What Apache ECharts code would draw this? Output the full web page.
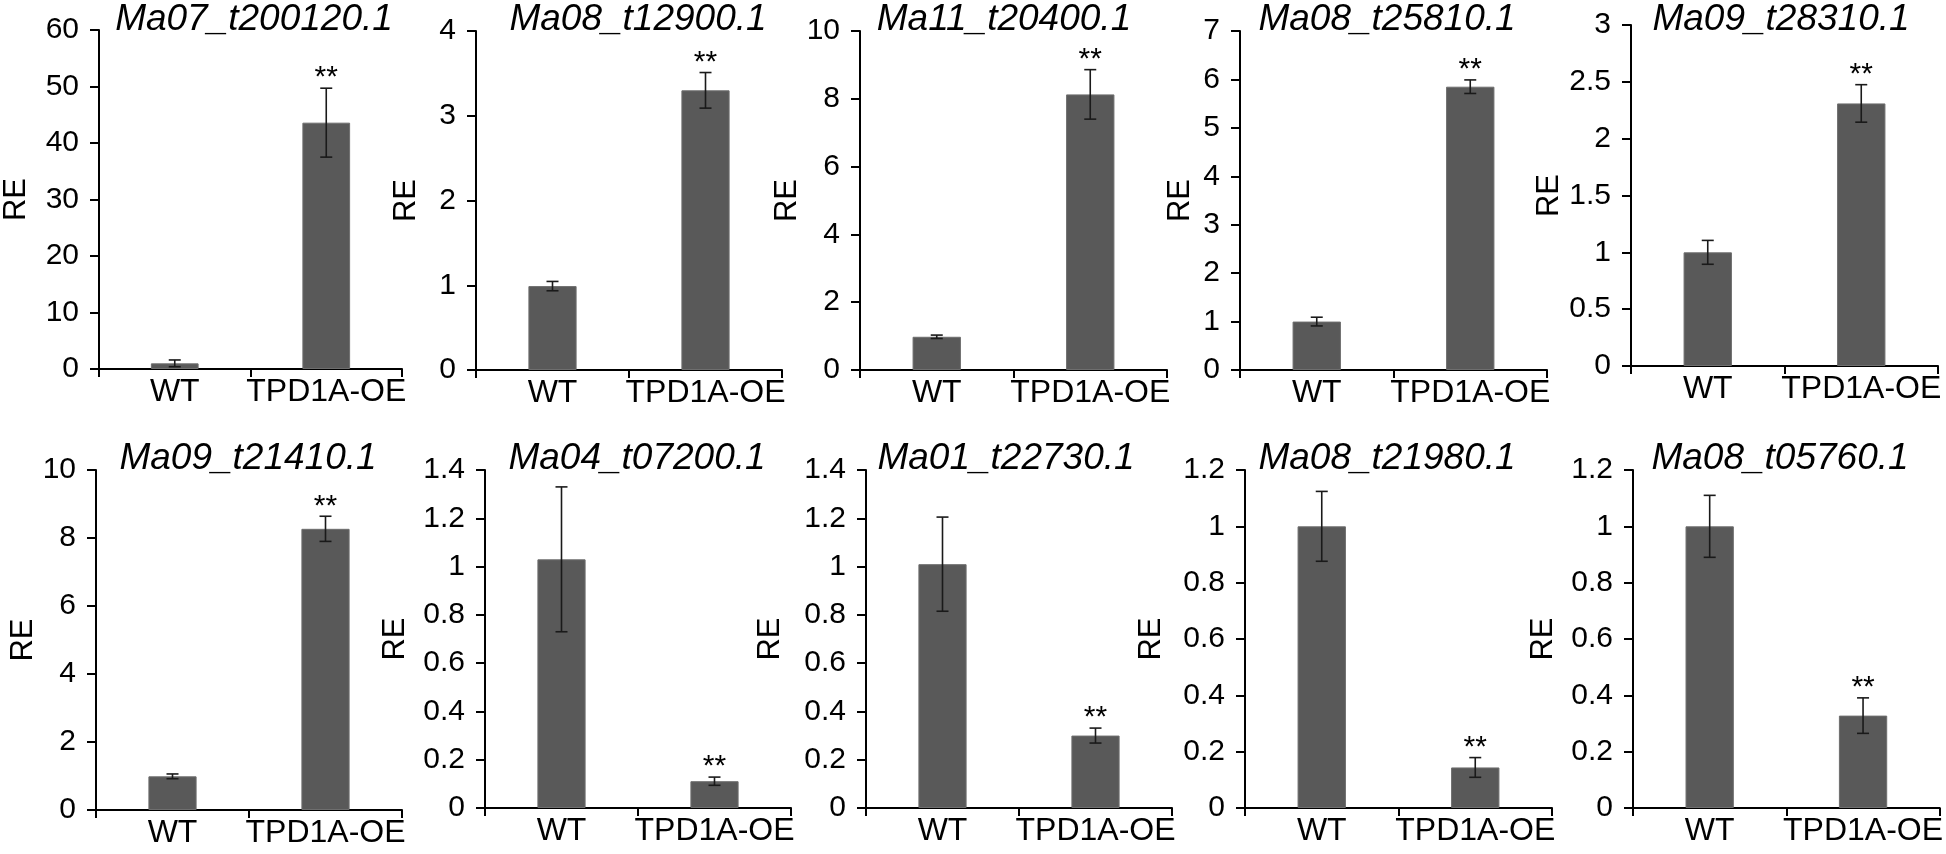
<!DOCTYPE html>
<html><head><meta charset="utf-8">
<script src="https://cdn.jsdelivr.net/npm/echarts@6/dist/echarts.min.js"></script>
<style>html,body{margin:0;padding:0;background:#fff}#c{width:1946px;height:854px}</style>
</head><body><div id="c"></div>
<script>
// ---- data ----
const genes = ['Ma07_t200120.1','Ma08_t12900.1','Ma11_t20400.1','Ma08_t25810.1','Ma09_t28310.1',
               'Ma09_t21410.1','Ma04_t07200.1','Ma01_t22730.1','Ma08_t21980.1','Ma08_t05760.1'];
const categories = ['WT','TPD1A-OE'];
const wtMean = [1.0, 0.99, 0.98, 1.0, 1.0, 0.99, 1.03, 1.01, 1.0, 1.0];
const wtErr  = [0.6, 0.055, 0.05, 0.09, 0.105, 0.07, 0.30, 0.195, 0.124, 0.11];
const oeMean = [43.6, 3.30, 8.13, 5.85, 2.31, 8.27, 0.111, 0.30, 0.144, 0.328];
const oeErr  = [6.1, 0.21, 0.73, 0.14, 0.165, 0.37, 0.017, 0.031, 0.035, 0.063];
const wtSig  = ['', '', '', '', '', '', '', '', '', ''];
const oeSig  = ['**','**','**','**','**','**','**','**','**','**'];
const yMax   = [60, 4, 10, 7, 3, 10, 1.4, 1.4, 1.2, 1.2];
const yStep  = [10, 1, 2, 1, 0.5, 2, 0.2, 0.2, 0.2, 0.2];
const yName  = 'RE';

// ---- layout (pixels) ----
const layout = [
  {left:96,  top:30,  width:306, height:339, gap:67, tx:254, ty:20},
  {left:476, top:31,  width:306, height:339, gap:54, tx:638, ty:20},
  {left:860, top:31,  width:307, height:339, gap:46, tx:1004, ty:20},
  {left:1240,top:31,  width:307, height:339, gap:44, tx:1387, ty:20},
  {left:1631,top:25,  width:307, height:341, gap:64, tx:1781, ty:20},
  {left:96,  top:470, width:306, height:340, gap:42, tx:248, ty:459},
  {left:485, top:470, width:306, height:338, gap:74, tx:637, ty:459},
  {left:866, top:470, width:306, height:338, gap:80, tx:1006, ty:459},
  {left:1245,top:470, width:307, height:338, gap:78, tx:1387, ty:459},
  {left:1633,top:470, width:307, height:338, gap:74, tx:1780, ty:459}
];

const FONT = 'Liberation Sans, Arial, sans-serif';
const grid = [], xAxis = [], yAxis = [], series = [], graphic = [];

genes.forEach((g, i) => {
  const L = layout[i];
  grid.push({left:L.left, top:L.top, width:L.width, height:L.height, containLabel:false});
  xAxis.push({
    type:'category', gridIndex:i, data:categories, boundaryGap:true,
    axisLine:{show:true, lineStyle:{color:'#000', width:2}},
    axisTick:{show:true, length:8, lineStyle:{color:'#000', width:2}, interval:0},
    axisLabel:{color:'#000', fontSize:32, fontFamily:FONT, margin:7, interval:0},
    splitLine:{show:false}
  });
  yAxis.push({
    type:'value', gridIndex:i, min:0, max:yMax[i], interval:yStep[i],
    name:yName, nameLocation:'middle', nameGap:L.gap,
    nameTextStyle:{color:'#000', fontSize:31, fontFamily:FONT},
    axisLine:{show:true, lineStyle:{color:'#000', width:2}},
    axisTick:{show:true, length:9, lineStyle:{color:'#000', width:2}},
    axisLabel:{color:'#000', fontSize:30, fontFamily:FONT, margin:20},
    splitLine:{show:false}
  });
  series.push({
    type:'bar', xAxisIndex:i, yAxisIndex:i, barWidth:'31.5%',
    itemStyle:{color:'#595959', borderColor:'#6e6e6e', borderWidth:1},
    data:[wtMean[i], oeMean[i]], silent:true, animation:false
  });
  series.push({
    type:'custom', xAxisIndex:i, yAxisIndex:i, z:5, animation:false, silent:true,
    data:[[0, wtMean[i], wtErr[i]], [1, oeMean[i], oeErr[i]]],
    encode:{x:0, y:1},
    renderItem:function(params, api){
      const c = api.value(0), m = api.value(1), e = api.value(2);
      const sig = c === 1 ? oeSig[i] : wtSig[i];
      const top = api.coord([c, m + e]);
      const bot = api.coord([c, Math.max(m - e, 0)]);
      const x = top[0], hw = 6;
      const st = {stroke:'#1a1a1a', lineWidth:1.6};
      const children = [
        {type:'line', shape:{x1:x, y1:top[1], x2:x, y2:bot[1]}, style:st},
        {type:'line', shape:{x1:x-hw, y1:top[1], x2:x+hw, y2:top[1]}, style:st},
        {type:'line', shape:{x1:x-hw, y1:bot[1], x2:x+hw, y2:bot[1]}, style:st}
      ];
      if (sig) {
        children.push({type:'text', x:x, y:top[1] + 5,
          style:{text:sig, fill:'#000', font:'30px ' + FONT, textAlign:'center', textVerticalAlign:'bottom'}});
      }
      return {type:'group', children:children};
    }
  });
  graphic.push({type:'text', x:L.tx, y:L.ty, silent:true,
    style:{text:g, fill:'#000', font:'italic 37px ' + FONT, textAlign:'center', textVerticalAlign:'middle'}});
});

const chart = echarts.init(document.getElementById('c'), null, {renderer:'canvas'});
chart.setOption({backgroundColor:'#fff', animation:false, grid, xAxis, yAxis, series, graphic});
</script></body></html>
